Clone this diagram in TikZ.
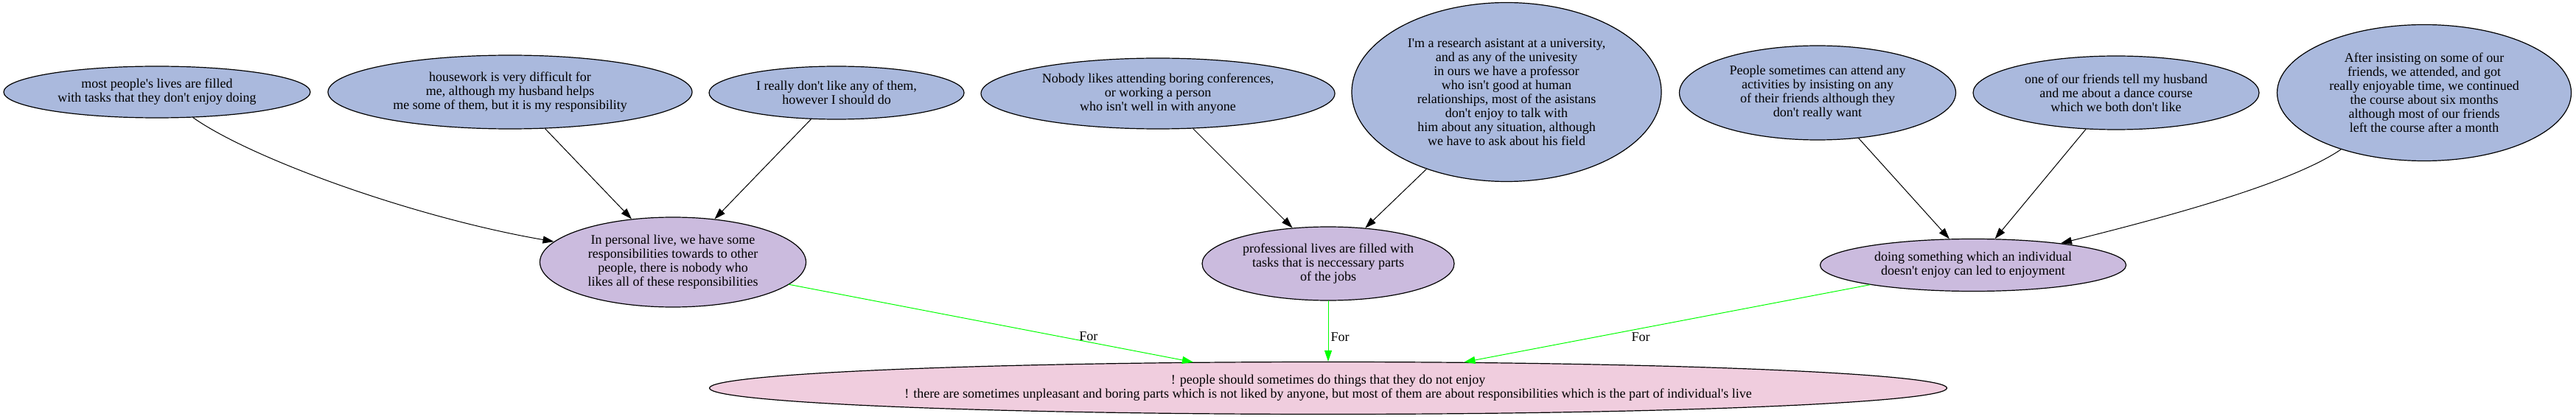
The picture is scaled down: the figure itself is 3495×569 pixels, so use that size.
\documentclass[tikz,border=0pt]{standalone}
\usepackage{fontspec}
\newfontfamily\gvfont{Liberation Serif}
\usetikzlibrary{arrows.meta,shapes.geometric}
\definecolor{claimblue}{RGB}{170,185,221}
\definecolor{reasonlilac}{RGB}{203,187,222}
\definecolor{mainpink}{RGB}{240,205,222}
\definecolor{forgreen}{RGB}{0,255,0}
\begin{document}
\begin{tikzpicture}[line cap=round,line join=round,>={Triangle[length=15pt,width=10pt]},x=1pt,y=-1pt,
  txt/.style={font=\gvfont\fontsize{18}{19}\selectfont},
  argnode/.style={ellipse,draw=black,line width=1.2pt,inner sep=0pt,align=center,txt},
  premise/.style={argnode,fill=claimblue},
  reason/.style={argnode,fill=reasonlilac},
  conclusion/.style={argnode,fill=mainpink},
  link/.style={->,draw=black,line width=1pt},
  forlink/.style={->,draw=forgreen,line width=1pt},
  forlabel/.style={txt,inner sep=0pt,text=black}]
\useasboundingbox (0,0) rectangle (3495,569);
\node[premise,minimum width=416pt,minimum height=70pt] (n1) at (213,125) {most people's lives are filled\\with tasks that they don't enjoy doing};
\node[premise,minimum width=494pt,minimum height=100pt] (n2) at (692,125) {housework is very difficult for\\me, although my husband helps\\me some of them, but it is my responsibility};
\node[premise,minimum width=346pt,minimum height=72pt] (n3) at (1135,126) {I really don't like any of them,\\however I should do};
\node[premise,minimum width=480pt,minimum height=96pt] (n4) at (1571,127) {Nobody likes attending boring conferences,\\or working a person\\who isn't well in with anyone};
\node[premise,minimum width=420pt,minimum height=243pt] (n5) at (2044,125) {I'm a research asistant at a university,\\and as any of the univesity\\in ours we have a professor\\who isn't good at human\\relationships, most of the asistans\\don't enjoy to talk with\\him about any situation, although\\we have to ask about his field};
\node[premise,minimum width=375pt,minimum height=128pt] (n6) at (2466,126) {People sometimes can attend any\\activities by insisting on any\\of their friends although they\\don't really want};
\node[premise,minimum width=388pt,minimum height=100pt] (n7) at (2871,126) {one of our friends tell my husband\\and me about a dance course\\which we both don't like};
\node[premise,minimum width=399pt,minimum height=185pt] (n8) at (3289,126) {After insisting on some of our\\friends, we attended, and got\\really enjoyable time, we continued\\the course about six months\\although most of our friends\\left the course after a month};
\node[reason,minimum width=361pt,minimum height=122pt] (n9) at (913,356) {In personal live, we have some\\responsibilities towards to other\\people, there is nobody who\\likes all of these responsibilities};
\node[reason,minimum width=342pt,minimum height=100pt] (n10) at (1802,358) {professional lives are filled with\\tasks that is neccessary parts\\of the jobs};
\node[reason,minimum width=415pt,minimum height=71pt] (n11) at (2677,360) {doing something which an individual\\doesn't enjoy can led to enjoyment};
\node[conclusion,minimum width=1679pt,minimum height=71pt] (n12) at (1802,527) {! people should sometimes do things that they do not enjoy\\! there are sometimes unpleasant and boring parts which is not liked by anyone, but most of them are about responsibilities which is the part of individual's live};
\draw[link] (n1) .. controls (340,215) and (560,295) .. (n9);
\draw[link] (n2) -- (n9);
\draw[link] (n3) -- (n9);
\draw[link] (n4) -- (n10);
\draw[link] (n5) -- (n10);
\draw[link] (n6) -- (n11);
\draw[link] (n7) -- (n11);
\draw[link] (n8) .. controls (3110,248) and (2950,292) .. (n11);
\draw[forlink] (n9) -- (n12) node[forlabel,pos=0.741,yshift=8pt] {For};
\draw[forlink] (n10) -- (n12) node[forlabel,pos=0.6,xshift=16pt] {For};
\draw[forlink] (n11) -- (n12) node[forlabel,pos=0.565,yshift=-12pt] {For};
\end{tikzpicture}
\end{document}
